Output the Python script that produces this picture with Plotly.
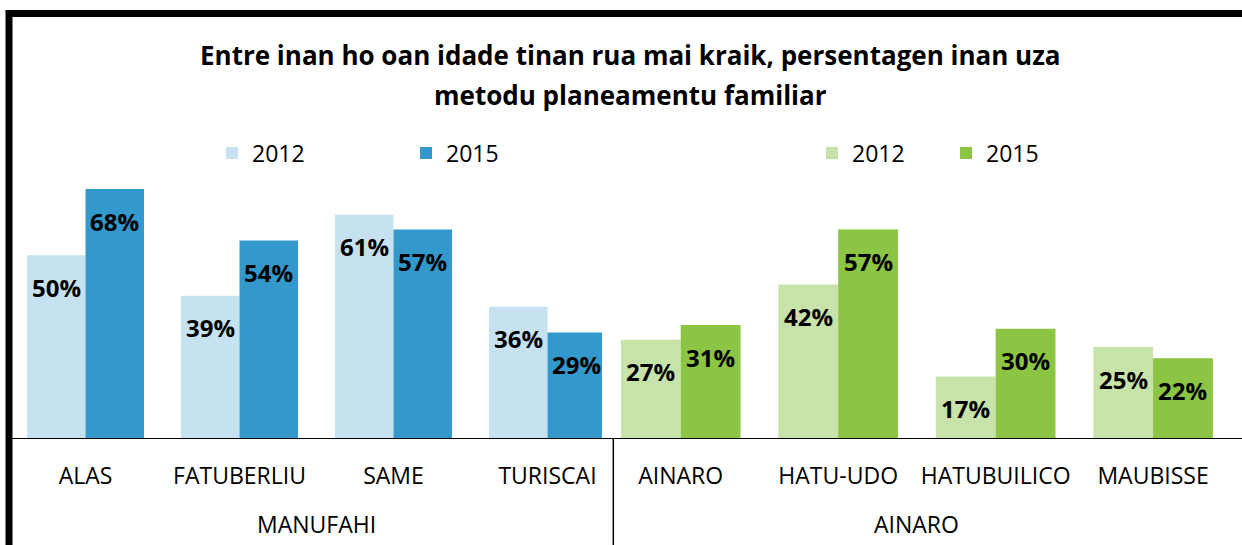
import plotly.graph_objects as go

# ---- data ----
manufahi_sub = ["ALAS", "FATUBERLIU", "SAME", "TURISCAI"]
manufahi_2012 = [50, 39, 61, 36]
manufahi_2015 = [68, 54, 57, 29]

ainaro_sub = ["AINARO", "HATU-UDO", "HATUBUILICO", "MAUBISSE"]
ainaro_2012 = [27, 42, 17, 25]
ainaro_2015 = [31, 57, 30, 22]

groups = ["MANUFAHI", "AINARO"]
years = ["2012", "2015"]
title_lines = ["Entre inan ho oan idade tinan rua mai kraik, persentagen inan uza",
               "metodu planeamentu familiar"]

# ---- layout geometry (pixels) ----
W, H = 1242, 545
PLOT_TOP, PLOT_BOT = 170, 439
PX_PER_PCT = 3.676
YMAX = (PLOT_BOT - PLOT_TOP) / PX_PER_PCT
BARGAP = 0.24

blue_dom = (8.5, 624.5)
green_dom = (602.0, 1231.8)

def px_x(p):
    return p / W

def px_y(p):
    return (PLOT_BOT - p) / (PLOT_BOT - PLOT_TOP)

C_LB, C_B = "#C6E1F0", "#3398CC"
C_LG, C_G = "#C8E3A9", "#8CC443"

FONT = "Open Sans"
TICK_SIZE = 23
LABEL_SIZE = 24
TITLE_SIZE = 26

fig = go.Figure()
fig.add_trace(go.Bar(x=manufahi_sub, y=manufahi_2012, name=years[0], marker_color=C_LB,
                     xaxis="x", yaxis="y", legend="legend"))
fig.add_trace(go.Bar(x=manufahi_sub, y=manufahi_2015, name=years[1], marker_color=C_B,
                     xaxis="x", yaxis="y", legend="legend2"))
fig.add_trace(go.Bar(x=ainaro_sub, y=ainaro_2012, name=years[0], marker_color=C_LG,
                     xaxis="x2", yaxis="y", legend="legend3"))
fig.add_trace(go.Bar(x=ainaro_sub, y=ainaro_2015, name=years[1], marker_color=C_G,
                     xaxis="x2", yaxis="y", legend="legend4"))
for tr in fig.data:
    tr.marker.line.width = 0
    tr.hoverinfo = "skip"

# data labels
annotations = []
for xref, dom, cats, v12, v15 in [("x", blue_dom, manufahi_sub, manufahi_2012, manufahi_2015),
                                  ("x2", green_dom, ainaro_sub, ainaro_2012, ainaro_2015)]:
    catw = (dom[1] - dom[0]) / len(cats)
    half = catw * (1 - BARGAP) / 4
    for c, a, b in zip(cats, v12, v15):
        for val, sh in [(a, -half), (b, half)]:
            annotations.append(dict(x=c, y=val, xref=xref, yref="y", text=f"{val}%",
                                    showarrow=False, xshift=sh, yshift=-32,
                                    font=dict(family=FONT, size=LABEL_SIZE, color="black", weight="bold")))

# group labels
for g, dom in zip(groups, [blue_dom, green_dom]):
    annotations.append(dict(x=px_x((dom[0] + dom[1]) / 2), y=px_y(524), xref="paper", yref="paper",
                            text=g, showarrow=False, xanchor="center", yanchor="middle",
                            font=dict(family=FONT, size=TICK_SIZE, color="black")))

# title (two lines)
for line, ypx in zip(title_lines, [55, 95]):
    annotations.append(dict(x=px_x(630), y=px_y(ypx), xref="paper", yref="paper",
                            text=line, showarrow=False, xanchor="center", yanchor="middle",
                            font=dict(family=FONT, size=TITLE_SIZE, color="black", weight="bold")))

shapes = [
    # outer frame (thick, left/top)
    dict(type="rect", xref="paper", yref="paper", x0=px_x(9), x1=px_x(1300), y0=px_y(620), y1=px_y(13.5),
         line=dict(color="black", width=7), fillcolor="rgba(0,0,0,0)", layer="above"),
    # baseline
    dict(type="line", xref="paper", yref="y", x0=px_x(12), x1=px_x(1250), y0=0, y1=0,
         line=dict(color="black", width=2)),
    # divider
    dict(type="line", xref="paper", yref="paper", x0=px_x(613.3), x1=px_x(613.3), y0=0, y1=px_y(560),
         line=dict(color="black", width=1.5)),
]

def xaxis(dom):
    return dict(domain=[px_x(dom[0]), px_x(dom[1])], anchor="y", type="category",
                showline=False, showgrid=False, zeroline=False,
                ticks="outside", ticklen=16, tickcolor="rgba(0,0,0,0)",
                tickfont=dict(family=FONT, size=TICK_SIZE, color="black"), fixedrange=True)

legend_font = dict(family=FONT, size=TICK_SIZE, color="black")
def legend(xpx):
    return dict(x=px_x(xpx), y=px_y(153), xanchor="left", yanchor="middle", orientation="h",
                font=legend_font, bgcolor="rgba(0,0,0,0)", itemwidth=30, traceorder="normal")

fig.update_layout(
    width=W, height=H,
    margin=dict(l=0, r=0, t=PLOT_TOP, b=H - PLOT_BOT, pad=0),
    paper_bgcolor="white", plot_bgcolor="white",
    barmode="group", bargap=BARGAP, bargroupgap=0,
    xaxis=xaxis(blue_dom),
    xaxis2=xaxis(green_dom),
    yaxis=dict(range=[0, YMAX], visible=False, fixedrange=True, domain=[0, 1]),
    legend=legend(212), legend2=legend(406), legend3=legend(812), legend4=legend(946),
    annotations=annotations, shapes=shapes,
    showlegend=True,
)

fig.write_html("out.html", config={"displayModeBar": False},
               post_script="document.body.style.margin='0';document.body.style.overflow='hidden';")
